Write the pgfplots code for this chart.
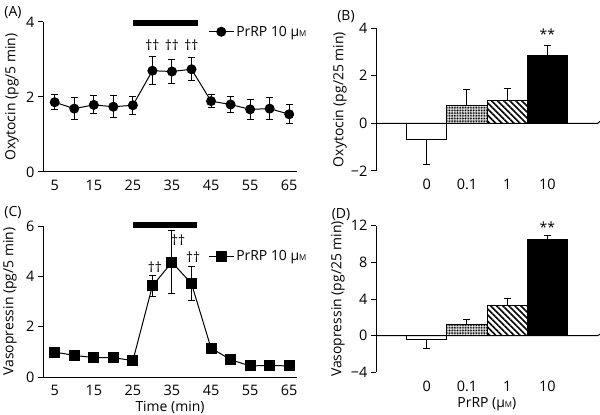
\documentclass[border=0pt]{standalone}
\usepackage{fontspec}
\setmainfont{Open Sans}
\usepackage{pgfplots}
\pgfplotsset{compat=1.18}
\usetikzlibrary{patterns,patterns.meta}

\newcommand{\fs}{\fontsize{14}{16}\selectfont}
\newcommand{\ft}{\fontsize{14.5}{16}\selectfont}
\pgfplotsset{
  base/.style={scale only axis, axis x line*=bottom, axis y line*=left,
    axis line style={line width=1pt,-}, tick align=outside,
    major tick style={line width=1pt, black}, major tick length=5pt,
    /pgf/number format/assume math mode=true,
    tick label style={font=\ft}, label style={font=\fs},
    clip=false, anchor=south west},
  linep/.style={base, xmin=2, xmax=67, xtick={5,15,...,65}, xtick style={draw=none},
    legend style={draw=none, fill=none, font=\fs, inner sep=0pt},
    legend image code/.code={\draw[mark repeat=2,mark phase=2] plot coordinates {(0bp,0bp) (12.5bp,0bp) (25bp,0bp)};}},
  barp/.style={base, xmin=-1.26, xmax=4.25, xtick={0,1,2,3}, xticklabels={0,0.1,1,10},
    x axis line style={draw=none}, xtick style={draw=none}},
  lerr/.style={error bars/.cd, y dir=both, y explicit,
    error bar style={line width=1pt}, error mark options={rotate=90, mark size=3.5pt, line width=1pt}},
}

\begin{document}
\begin{tikzpicture}
\useasboundingbox (0,0) rectangle (600bp,415bp);

% Panel A
\begin{axis}[linep, at={(43bp,243bp)}, width=254bp, height=150bp,
  ymin=0, ymax=4, ytick={0,2,4},
  ylabel={Oxytocin (pg/5 min)},
  ylabel style={at={(axis description cs:0,0.5)}, anchor=center, yshift=31bp},
  legend style={at={(axis description cs:0.65,0.935)}, anchor=west}]
\addplot[black, line width=1pt, mark=*, mark size=4.5pt, lerr] coordinates {
 (5,1.86) +- (0,0.2) (10,1.69) +- (0,0.3) (15,1.79) +- (0,0.24) (20,1.74) +- (0,0.3)
 (25,1.78) +- (0,0.24) (30,2.70) +- (0,0.37) (35,2.68) +- (0,0.32) (40,2.74) +- (0,0.3)
 (45,1.89) +- (0,0.18) (50,1.80) +- (0,0.22) (55,1.67) +- (0,0.27) (60,1.69) +- (0,0.29)
 (65,1.54) +- (0,0.25)};
\addlegendentry{PrRP 10 μ{\footnotesize M}}
\addplot[black, line width=6bp, no marks, forget plot] coordinates {(25,3.98) (41.7,3.98)};
\node[font=\fs] at (axis cs:30,3.37) {††};
\node[font=\fs] at (axis cs:35,3.37) {††};
\node[font=\fs] at (axis cs:40,3.37) {††};
\end{axis}

% Panel C
\begin{axis}[linep, at={(43bp,38bp)}, width=254bp, height=151bp,
  ymin=0, ymax=6, ytick={0,2,4,6},
  ylabel={Vasopressin (pg/5 min)},
  ylabel style={at={(axis description cs:0,0.5)}, anchor=center, yshift=33bp},
  xlabel={Time (min)},
  xlabel style={at={(axis description cs:0.5,0)}, anchor=center, yshift=-30bp},
  legend style={at={(axis description cs:0.65,0.797)}, anchor=west}]
\addplot[black, line width=1pt, mark=square*, mark size=5pt, lerr] coordinates {
 (5,0.99) (10,0.86) (15,0.77) (20,0.77) (25,0.65)
 (30,3.62) +- (0,0.41) (35,4.56) +- (0,1.25) (40,3.71) +- (0,0.68)
 (45,1.15) (50,0.69) (55,0.44) (60,0.46) (65,0.44)};
\addlegendentry{PrRP 10 μ{\footnotesize M}}
\addplot[black, line width=6bp, no marks, forget plot] coordinates {(25,6.03) (41.5,6.03)};
\node[font=\fs] at (axis cs:30.6,4.37) {††};
\node[font=\fs] at (axis cs:36.6,5.43) {††};
\node[font=\fs] at (axis cs:40.4,4.77) {††};
\end{axis}

% Panel B
\begin{axis}[barp, at={(376bp,244bp)}, width=221.7bp, height=143bp,
  ymin=-2, ymax=4, ytick={-2,0,2,4}, yticklabels={−2,0,2,4},
  ylabel={Oxytocin (pg/25 min)},
  ylabel style={at={(axis description cs:0,0.5)}, anchor=center, yshift=36bp}]
\addplot[ybar, bar width=1, bar shift=0pt, draw=black, fill=white, line width=1pt,
  error bars/.cd, y dir=minus, y explicit, error bar style={line width=1pt},
  error mark options={rotate=90, mark size=3.5pt, line width=1pt}]
  coordinates {(0,-0.67) -= (0,1.05)};
\addplot[ybar, bar width=1, bar shift=0pt, draw=black, line width=1pt,
  pattern={Dots[distance=1.6pt, radius=0.65pt]},
  error bars/.cd, y dir=plus, y explicit, error bar style={line width=1pt},
  error mark options={rotate=90, mark size=3.5pt, line width=1pt}]
  coordinates {(1,0.73) += (0,0.70)};
\addplot[ybar, bar width=1, bar shift=0pt, draw=black, line width=1pt,
  pattern={Lines[angle=-45, distance=4.3pt, line width=1.6pt]},
  error bars/.cd, y dir=plus, y explicit, error bar style={line width=1pt},
  error mark options={rotate=90, mark size=3.5pt, line width=1pt}]
  coordinates {(2,0.95) += (0,0.50)};
\addplot[ybar, bar width=1, bar shift=0pt, draw=black, fill=black, line width=1pt,
  error bars/.cd, y dir=plus, y explicit, error bar style={line width=1pt},
  error mark options={rotate=90, mark size=3.5pt, line width=1pt}]
  coordinates {(3,2.85) += (0,0.40)};
\draw[line width=1pt] (axis cs:-1.26,0) -- (axis cs:4.25,0) -- ++(0,-5pt);
\node[font=\fs] at (axis cs:3,3.72) {**};
\end{axis}

% Panel D
\begin{axis}[barp, at={(376bp,42.7bp)}, width=221.7bp, height=146.6bp,
  ymin=-4, ymax=12, ytick={-4,0,4,8,12}, yticklabels={−4,0,4,8,12},
  ylabel={Vasopressin (pg/25 min)},
  ylabel style={at={(axis description cs:0,0.5)}, anchor=center, yshift=38bp},
  xlabel={PrRP (μ{\footnotesize M})},
  xlabel style={at={(axis description cs:0.5,0)}, anchor=center, yshift=-32bp}]
\addplot[ybar, bar width=1, bar shift=0pt, draw=black, fill=white, line width=1pt,
  error bars/.cd, y dir=minus, y explicit, error bar style={line width=1pt},
  error mark options={rotate=90, mark size=3.5pt, line width=1pt}]
  coordinates {(0,-0.4) -= (0,0.98)};
\addplot[ybar, bar width=1, bar shift=0pt, draw=black, line width=1pt,
  pattern={Dots[distance=1.6pt, radius=0.65pt]},
  error bars/.cd, y dir=plus, y explicit, error bar style={line width=1pt},
  error mark options={rotate=90, mark size=3.5pt, line width=1pt}]
  coordinates {(1,1.24) += (0,0.55)};
\addplot[ybar, bar width=1, bar shift=0pt, draw=black, line width=1pt,
  pattern={Lines[angle=-45, distance=4.3pt, line width=1.6pt]},
  error bars/.cd, y dir=plus, y explicit, error bar style={line width=1pt},
  error mark options={rotate=90, mark size=3.5pt, line width=1pt}]
  coordinates {(2,3.27) += (0,0.77)};
\addplot[ybar, bar width=1, bar shift=0pt, draw=black, fill=black, line width=1pt,
  error bars/.cd, y dir=plus, y explicit, error bar style={line width=1pt},
  error mark options={rotate=90, mark size=3.5pt, line width=1pt}]
  coordinates {(3,10.5) += (0,0.45)};
\draw[line width=1pt] (axis cs:-1.26,0) -- (axis cs:4.25,0) -- ++(0,-5pt);
\node[font=\fs] at (axis cs:3,11.85) {**};
\end{axis}

\node[font=\fs] at (13bp,402bp) {(A)};
\node[font=\fs] at (346bp,398bp) {(B)};
\node[font=\fs] at (13bp,202bp) {(C)};
\node[font=\fs] at (341bp,200bp) {(D)};
\end{tikzpicture}
\end{document}
